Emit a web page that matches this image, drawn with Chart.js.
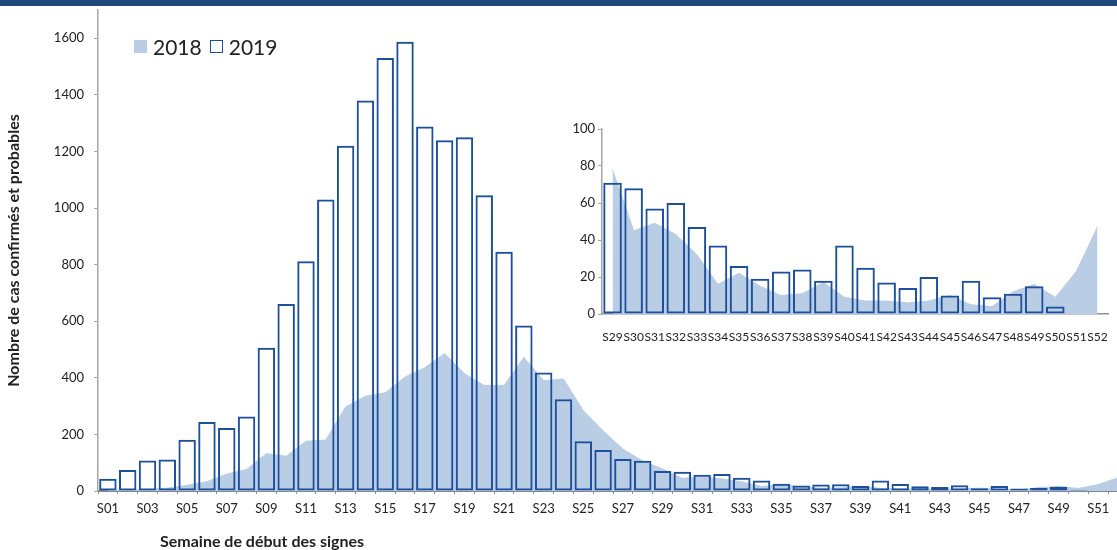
<!DOCTYPE html>
<html lang="fr">
<head>
<meta charset="utf-8">
<title>Cas confirmés et probables par semaine de début des signes</title>
<script src="https://cdn.jsdelivr.net/npm/chart.js@4.4.1/dist/chart.umd.min.js"></script>
<style>
  html, body { margin: 0; padding: 0; background: #fff; overflow: hidden; }
  body { width: 1117px; height: 550px; position: relative; font-family: Lato, "Open Sans", sans-serif; color: #222; }
  #topBand { position: absolute; left: 0; top: 0; width: 1117px; height: 6px; background: #1f497d; }
  #mainChart { position: absolute; left: 0; top: 0; }
  #insetChart { position: absolute; left: 555px; top: 112px; }
  #legend { position: absolute; left: 134px; top: 34px; display: flex; align-items: center; font-size: 21px; }
  #legend .box { display: inline-block; width: 13px; height: 13px; box-sizing: border-box; margin-right: 6px; }
  #legend .fill { background: #b9cde5; }
  #legend .outline { border: 1.5px solid #1c4f9c; margin-left: 8px; }
  #xTitle { position: absolute; left: 160px; top: 531px; font-size: 16px; font-weight: bold; }
</style>
</head>
<body>
<canvas id="mainChart" width="1128" height="550"></canvas>
<canvas id="insetChart" width="562" height="240"></canvas>
<div id="topBand"></div>
<div id="legend">
  <span class="box fill"></span><span>2018</span>
  <span class="box outline"></span><span>2019</span>
</div>
<div id="xTitle">Semaine de début des signes</div>

<script>
// semaines
const weeks = ['S01', 'S02', 'S03', 'S04', 'S05', 'S06', 'S07', 'S08', 'S09', 'S10',
    'S11', 'S12', 'S13', 'S14', 'S15', 'S16', 'S17', 'S18', 'S19', 'S20',
    'S21', 'S22', 'S23', 'S24', 'S25', 'S26', 'S27', 'S28', 'S29', 'S30',
    'S31', 'S32', 'S33', 'S34', 'S35', 'S36', 'S37', 'S38', 'S39', 'S40',
    'S41', 'S42', 'S43', 'S44', 'S45', 'S46', 'S47', 'S48', 'S49', 'S50',
    'S51', 'S52'];

// cas 2019 (barres)
const cases2019 = [43, 74, 108, 111, 181, 244, 223, 263, 506, 661,
    812, 1030, 1220, 1380, 1530, 1588, 1288, 1240, 1250, 1045,
    846, 585, 419, 324, 176, 145, 113, 107, 71, 68,
    57, 60, 47, 37, 26, 19, 23, 24, 18, 37,
    25, 17, 14, 20, 10, 18, 9, 11, 15, 4,
    null, null];

// cas 2018 (aire)
const cases2018 = [1, 3, 5, 10, 20, 33, 60, 76, 132, 123,
    176, 180, 297, 335, 347, 403, 436, 486, 415, 373,
    373, 472, 390, 396, 284, 213, 148, 106, 78, 45,
    49, 43, 32, 16, 22, 15, 10, 11, 17, 9,
    7, 7, 6, 7, 10, 5, 4, 12, 16, 9,
    23, 47];

const mainTicks = [0, 200, 400, 600, 800, 1000, 1200, 1400, 1600];
const insetTicks = [0, 20, 40, 60, 80, 100];
const insetFrom = 28; // S29

const barBlue = '#1c4f9c';
const areaBlue = '#b9cde5';
const axisGrey = '#8a8f98';

Chart.defaults.font.family = 'Lato, "Open Sans", sans-serif';
Chart.defaults.color = '#222';

function makeDatasets(bars, area) {
    return [
        {
            type: 'bar',
            label: '2019',
            data: bars,
            backgroundColor: 'rgba(255,255,255,0)',
            borderColor: barBlue,
            borderWidth: 2,
            borderSkipped: false,
            categoryPercentage: 1,
            barPercentage: 0.88,
            order: 0
        },
        {
            type: 'line',
            label: '2018',
            data: area,
            backgroundColor: areaBlue,
            borderColor: areaBlue,
            borderWidth: 1,
            pointRadius: 0,
            fill: 'origin',
            tension: 0,
            order: 1
        }
    ];
}

const plainNumber = value => String(value);

new Chart(document.getElementById('mainChart'), {
    type: 'bar',
    data: {
        labels: weeks,
        datasets: makeDatasets(cases2019, cases2018)
    },
    options: {
        responsive: false,
        animation: false,
        layout: { autoPadding: false, padding: { top: 10, right: 0, bottom: 0, left: 0 } },
        plugins: { legend: { display: false }, tooltip: { enabled: false } },
        scales: {
            x: {
                offset: true,
                grid: { drawOnChartArea: false, offset: true, tickLength: 3, color: axisGrey },
                border: { color: '#7f8894', width: 2 },
                ticks: {
                    autoSkip: false,
                    maxRotation: 0,
                    padding: 7,
                    font: { size: 13 },
                    callback: function (value, index) {
                        return index % 2 === 0 ? this.getLabelForValue(value) : '';
                    }
                },
                afterFit: function (scale) { scale.height = 59; }
            },
            y: {
                min: 0,
                max: 1700,
                grid: { drawOnChartArea: false, tickLength: 4, color: '#a6a6a6' },
                border: { color: '#a6a6a6', width: 1.5 },
                ticks: { padding: 10, font: { size: 13 }, callback: plainNumber },
                afterBuildTicks: function (scale) {
                    scale.ticks = mainTicks.map(v => ({ value: v }));
                },
                title: {
                    display: true,
                    text: 'Nombre de cas confirmés et probables',
                    font: { size: 16, weight: 'bold' },
                    padding: { top: 4, bottom: 0 }
                },
                afterFit: function (scale) {
                    scale.width = 98;
                    // the tick padding must not push the plot down
                    scale.paddingTop = 0;
                    scale.paddingBottom = 0;
                }
            }
        }
    }
});

// encart S29 - S52
new Chart(document.getElementById('insetChart'), {
    type: 'bar',
    data: {
        labels: weeks.slice(insetFrom),
        datasets: makeDatasets(cases2019.slice(insetFrom), cases2018.slice(insetFrom))
    },
    options: {
        responsive: false,
        animation: false,
        layout: { autoPadding: false, padding: { top: 17, right: 9, bottom: 0, left: 0 } },
        plugins: { legend: { display: false }, tooltip: { enabled: false } },
        scales: {
            x: {
                offset: true,
                grid: { display: false },
                border: { color: axisGrey, width: 1.5 },
                ticks: { autoSkip: false, maxRotation: 0, padding: 8, font: { size: 12 } },
                afterFit: function (scale) { scale.height = 38; }
            },
            y: {
                min: 0,
                max: 100,
                grid: { drawOnChartArea: false, tickLength: 4, color: '#a6a6a6' },
                border: { color: '#a6a6a6', width: 1.5 },
                ticks: { padding: 3, font: { size: 13 }, callback: plainNumber },
                afterBuildTicks: function (scale) {
                    scale.ticks = insetTicks.map(v => ({ value: v }));
                },
                afterFit: function (scale) {
                    scale.width = 47;
                    scale.paddingTop = 0;
                    scale.paddingBottom = 0;
                }
            }
        }
    }
});
</script>
</body>
</html>
